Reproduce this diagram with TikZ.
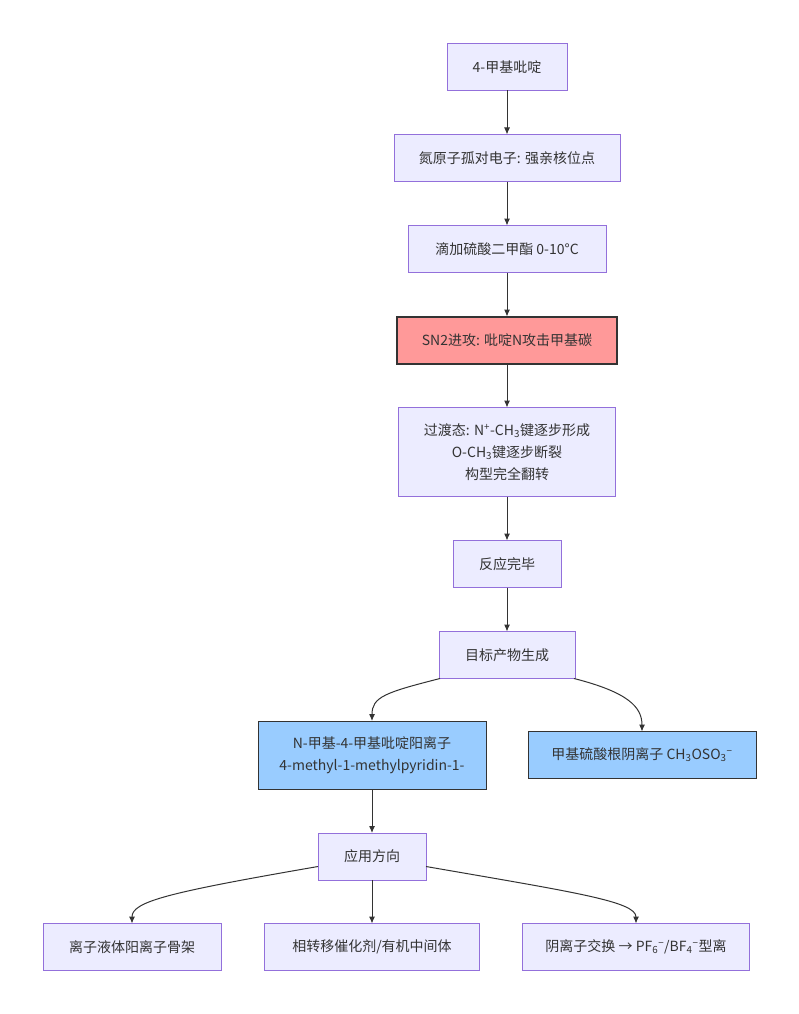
\documentclass[tikz,border=0pt]{standalone}
\usepackage{fontspec}
\setmainfont{Noto Sans CJK SC}
\usetikzlibrary{arrows.meta,positioning,calc}
\definecolor{boxfill}{HTML}{ECECFF}
\definecolor{boxline}{HTML}{9370DB}
\definecolor{ink}{HTML}{333333}
\definecolor{hotfill}{HTML}{FF9999}
\definecolor{ionfill}{HTML}{99CCFF}
\tikzset{
  proc/.style   = {rectangle, draw=boxline, line width=1pt, fill=boxfill,
                   align=center, text=ink, minimum height=47pt, outer sep=0pt,
                   minimum width=#1, inner sep=0pt, font=\fontsize{14}{22}\selectfont},
  hot/.style    = {proc=#1, draw=ink, line width=2pt, fill=hotfill},
  ion/.style    = {proc=#1, draw=ink, fill=ionfill},
  link/.style   = {-{Latex[length=7pt,width=6pt]}, line width=1pt, draw=ink},
}

\begin{document}
\begin{tikzpicture}[node distance=44pt]
  \useasboundingbox[fill=white] (0,0) rectangle (799pt,-1014pt);

  \node[proc=120pt] (pic) at (507pt,-67pt) {4-甲基吡啶};
  \node[proc=226pt, below=of pic] (lone) {氮原子孤对电子: 强亲核位点};
  \node[proc=198pt, below=of lone] (add) {滴加硫酸二甲酯 0-10°C};
  \node[hot=220pt, below=of add] (sn2) {SN2进攻: 吡啶N攻击甲基碳};
  \node[proc=217pt, minimum height=89pt, below=of sn2] (ts)
       {过渡态: N\textsuperscript{+}-CH\textsubscript{3}键逐步形成\\
        O-CH\textsubscript{3}键逐步断裂\\ 构型完全翻转};
  \node[proc=108pt, below=of ts] (done) {反应完毕};
  \node[proc=136pt, below=of done] (prod) {目标产物生成};

  \node[ion=228pt, minimum height=68pt] (cat) at (372pt,-755pt)
       {N-甲基-4-甲基吡啶阳离子\\ 4-methyl-1-methylpyridin-1-};
  \node[ion=228pt] (anion) at (642pt,-755pt)
       {甲基硫酸根阴离子 CH\textsubscript{3}OSO\textsubscript{3}\textsuperscript{−}};

  \node[proc=108pt, below=of cat] (use) {应用方向};
  \node[proc=178pt] (ionliq) at (132pt,-947pt) {离子液体阳离子骨架};
  \node[proc=215pt] (ptc) at (372pt,-947pt) {相转移催化剂/有机中间体};
  \node[proc=227pt] (swap) at (636pt,-947pt)
       {阴离子交换 → PF\textsubscript{6}\textsuperscript{−}/BF\textsubscript{4}\textsuperscript{−}型离};

  \draw[link] (pic) -- (lone);
  \draw[link] (lone) -- (add);
  \draw[link] (add) -- (sn2);
  \draw[link] (sn2) -- (ts);
  \draw[link] (ts) -- (done);
  \draw[link] (done) -- (prod);
  \draw[link] ([xshift=1pt]prod.south west) .. controls +(-55pt,-14pt) and +(0,24pt) .. (cat.north);
  \draw[link] ([xshift=-1pt]prod.south east) .. controls +(55pt,-14pt) and +(0,24pt) .. (anion.north);
  \draw[link] (cat) -- (use);
  \draw[link] ([yshift=-10pt]use.west) .. controls +(-150pt,-26pt) and +(0,22pt) .. (ionliq.north);
  \draw[link] (use) -- (ptc);
  \draw[link] ([yshift=-10pt]use.east) .. controls +(150pt,-26pt) and +(0,22pt) .. (swap.north);
\end{tikzpicture}
\end{document}
